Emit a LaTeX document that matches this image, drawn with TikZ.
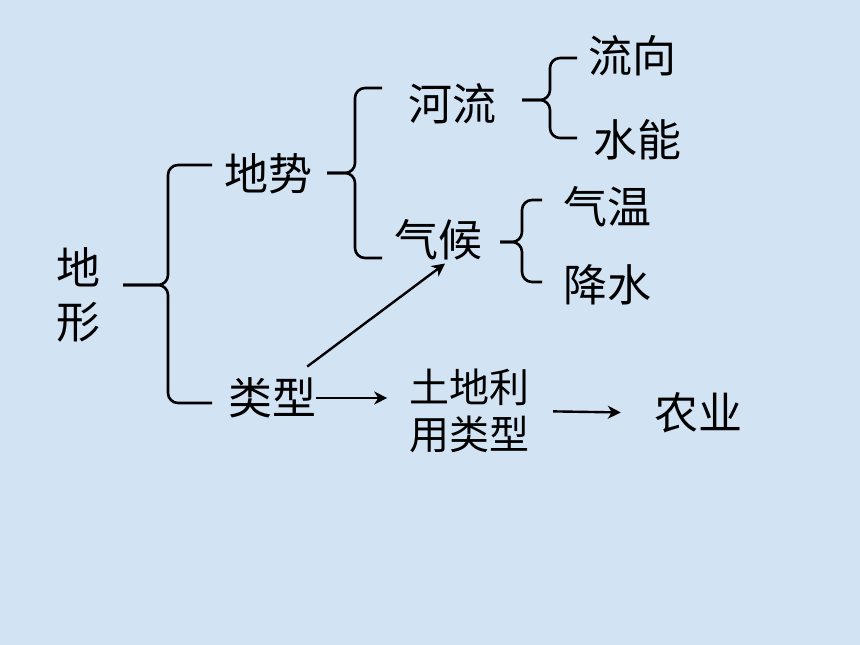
\documentclass[tikz,border=0pt]{standalone}
\usepackage{fontspec}
\newfontfamily\cjk{Noto Sans CJK SC}
\usetikzlibrary{arrows.meta}
\definecolor{bgblue}{RGB}{210,227,244}
\tikzset{
  lbl/.style={inner sep=0pt, font=\cjk\fontsize{44}{54}\selectfont, align=center},
  lblsm/.style={inner sep=0pt, font=\cjk\fontsize{40}{47}\selectfont, align=center},
  brc/.style={line width=2.6pt, rounded corners=10pt},
  arr/.style={line width=2.4pt, -{Stealth[length=13pt,width=13pt,inset=4pt]}}
}
\newcommand\mybrace[6]{% tipx tipy vx top bot endx
  \draw[brc] (#6,#4) -- (#3,#4) -- (#3,#2) -- (#1,#2);
  \draw[brc] (#1,#2) -- (#3,#2) -- (#3,#5) -- (#6,#5);
}
\begin{document}
\begin{tikzpicture}[x=1pt,y=-1pt]
\fill[bgblue] (0,0) rectangle (860,645);
\useasboundingbox (0,0) rectangle (860,645);
\node[lbl] (dx) at (78,295) {地\\形};
\node[lbl] (ds) at (268,174) {地势};
\node[lbl] (lx) at (272,398) {类型};
\node[lbl] (hl) at (452,104) {河流};
\node[lbl] (qh) at (438,240) {气候};
\node[lbl] (lxg) at (632,56) {流向};
\node[lbl] (sn) at (637,140) {水能};
\node[lbl] (qw) at (607,207) {气温};
\node[lbl] (js) at (607,285) {降水};
\node[lblsm] (td) at (469,411) {土地利\\用类型};
\node[lbl] (ny) at (698,413) {农业};
\mybrace{123}{285}{168}{165}{403}{212}
\mybrace{327}{173}{355}{88}{258}{382}
\mybrace{522}{100}{550}{58}{138}{577}
\mybrace{500}{242}{522}{200}{282}{542}
\draw[arr] ([shift={(-9,-11)}]lx.north east) -- ([shift={(7,3)}]qh.south);
\draw[arr] (lx.east) -- ++(71,0);
\draw[arr, shorten <=24pt, shorten >=33pt] (td.east) -- (ny.west);
\end{tikzpicture}
\end{document}
